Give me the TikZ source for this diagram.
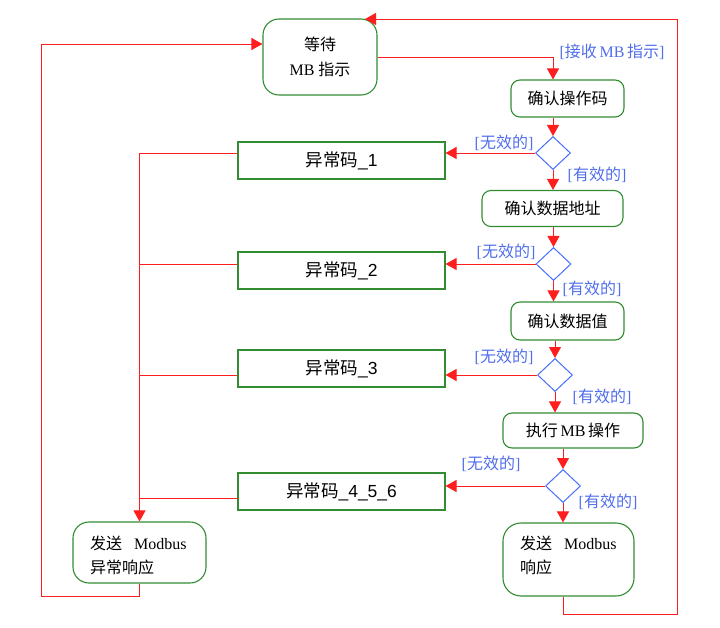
\documentclass[tikz,border=0pt]{standalone}
\usepackage{fontspec}
\setmainfont{Liberation Serif}
\setsansfont{Liberation Sans}
\newfontfamily\cjk{Noto Sans CJK SC}
\usetikzlibrary{shapes.geometric,arrows.meta}
\definecolor{lred}{RGB}{255,30,30}
\definecolor{bgreen}{RGB}{50,140,50}
\definecolor{dblue}{RGB}{70,110,250}
\definecolor{lblue}{RGB}{80,110,235}
\tikzset{
  flow/.style={draw=lred, line width=0.9pt},
  arr/.style={flow, -{Triangle[length=11pt,width=12pt]}},
  rbox/.style={draw=bgreen, line width=1.1pt, rounded corners=9pt, inner sep=0pt, font=\fontsize{16}{20}\selectfont, text=black},
  ebox/.style={draw=bgreen, line width=1.1pt, minimum width=207pt, minimum height=37pt, inner sep=0pt, font=\fontsize{17.5}{20}\selectfont\sffamily, text=black},
  dec/.style={draw=dblue, line width=1pt, diamond, inner sep=0pt, minimum width=35pt, minimum height=33pt},
  lab/.style={text=lblue, font=\fontsize{16}{20}\selectfont, inner sep=0pt},
  txt/.style={anchor=base west, inner sep=0pt, font=\fontsize{16}{20}\selectfont, text=black},
}
\begin{document}
\begin{tikzpicture}[x=1pt,y=-1pt]
\useasboundingbox (0,0) rectangle (720,628);
% nodes
\node[rbox, rounded corners=16pt, minimum width=114pt, minimum height=76pt, align=center, font=\fontsize{16}{25}\selectfont] (wait) at (320,57) {{\cjk 等待}\\MB {\cjk 指示}};
\node[rbox, minimum width=113pt, minimum height=37pt] (op) at (567.5,98.5) {\cjk 确认操作码};
\node[dec] (d1) at (553,153) {};
\node[ebox] (e1) at (341.5,160.5) {{\cjk 异常码}\_1};
\node[rbox, minimum width=141pt, minimum height=36pt] (addr) at (552.5,208.5) {\cjk 确认数据地址};
\node[dec] (d2) at (553.5,264) {};
\node[ebox] (e2) at (341.5,270.5) {{\cjk 异常码}\_2};
\node[rbox, minimum width=113pt, minimum height=38pt] (val) at (567.5,321) {\cjk 确认数据值};
\node[dec] (d3) at (555,375) {};
\node[ebox] (e3) at (341.5,368.5) {{\cjk 异常码}\_3};
\node[rbox, minimum width=140pt, minimum height=35pt] (exec) at (573,430.5) {{\cjk 执行}\,MB\,{\cjk 操作}};
\node[dec] (d4) at (563,486) {};
\node[ebox] (e4) at (341.5,491.5) {{\cjk 异常码}\_4\_5\_6};
\node[rbox, rounded corners=18pt, minimum width=131pt, minimum height=73pt] (resp) at (568.5,559.5) {};
\node[txt] (resp1) at (520,549) {{\cjk 发送}\hspace{12pt}Modbus};
\node[txt] (resp2) at (520,573) {\cjk 响应};
\node[rbox, rounded corners=16pt, minimum width=133pt, minimum height=61pt] (eresp) at (139.5,552.5) {};
\node[txt] (eresp1) at (90,549) {{\cjk 发送}\hspace{12pt}Modbus};
\node[txt] (eresp2) at (90,573) {\cjk 异常响应};
% labels
\node[lab] (lrecv) at (612,52) {[{\cjk 接收}\,MB\,{\cjk 指示}]};
\node[lab] (n1) at (504,143) {[{\cjk 无效的}]};
\node[lab] (y1) at (597,175) {[{\cjk 有效的}]};
\node[lab] (n2) at (506,252) {[{\cjk 无效的}]};
\node[lab] (y2) at (592,289) {[{\cjk 有效的}]};
\node[lab] (n3) at (504,357) {[{\cjk 无效的}]};
\node[lab] (y3) at (602,397) {[{\cjk 有效的}]};
\node[lab] (n4) at (491,464) {[{\cjk 无效的}]};
\node[lab] (y4) at (608,502) {[{\cjk 有效的}]};
% coordinates
\coordinate (rb) at (677,614);
\coordinate (rt) at (677,19);
\coordinate (wt) at (365,19);
\coordinate (lb) at (41,596);
\coordinate (lt) at (41,44);
\coordinate (b4) at (238,498);
% right column flow
\draw[arr] (wait.east) -| (op.north -| d1);
\draw[arr] (op.south -| d1) -- (d1.north);
\draw[arr] (d1.west) -- (d1.west -| e1.east);
\draw[arr] (d1.south) -- (addr.north -| d1);
\draw[arr] (addr.south -| d2) -- (d2.north);
\draw[arr] (d2.west) -- (d2.west -| e2.east);
\draw[arr] (d2.south) -- (val.north -| d2);
\draw[arr] (val.south -| d3) -- (d3.north);
\draw[arr] (d3.west) -- (d3.west -| e3.east);
\draw[arr] (d3.south) -- (exec.north -| d3);
\draw[arr] (exec.south -| d4) -- (d4.north);
\draw[arr] (d4.west) -- (d4.west -| e4.east);
\draw[arr] (d4.south) -- (resp.north -| d4);
\draw[arr] (resp.south -| d4) |- (rb) -- (rt) -- (wt);
% left bus
\draw[arr] (d1.west -| e1.west) -| (eresp.north);
\draw[flow] (d2.west -| e2.west) -- (d2.west -| eresp.north);
\draw[flow] (d3.west -| e3.west) -- (d3.west -| eresp.north);
\draw[flow] (b4) -- (b4 -| eresp.north);
\draw[arr] (eresp.south) |- (lb) -- (lt) -- (lt -| wait.west);
\end{tikzpicture}
\end{document}
